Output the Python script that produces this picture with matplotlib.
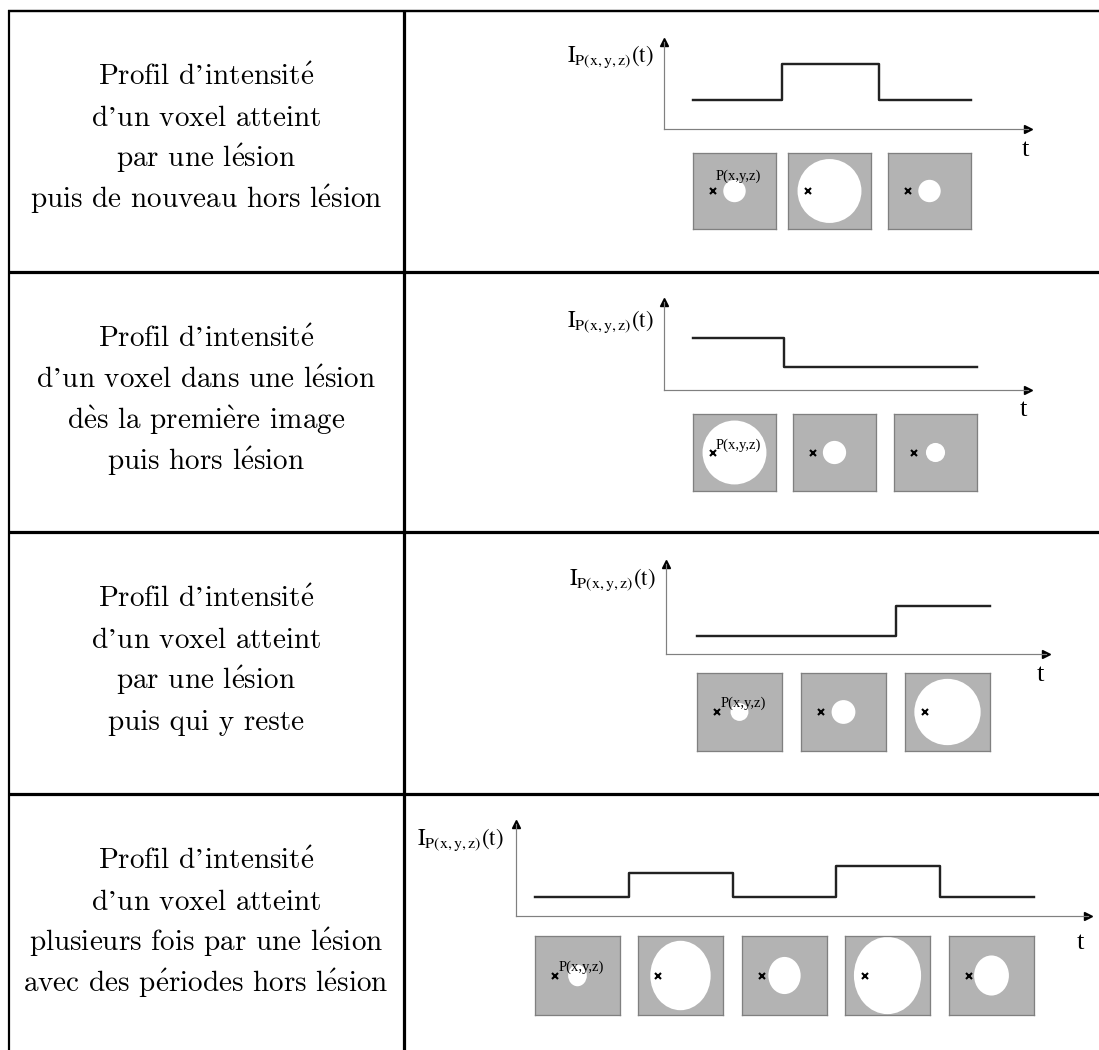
import matplotlib
matplotlib.use("Agg")
import matplotlib.pyplot as plt
from matplotlib.patches import Ellipse

plt.rcParams["mathtext.fontset"] = "stix"

W, H, DPI = 1099, 1050, 100
PX = 72.0 / DPI  # points per pixel

# ---------------- data ----------------
descriptions = [
    ["Profil d’intensité", "d’un voxel atteint", "par une lésion", "puis de nouveau hors lésion"],
    ["Profil d’intensité", "d’un voxel dans une lésion", "dès la première image", "puis hors lésion"],
    ["Profil d’intensité", "d’un voxel atteint", "par une lésion", "puis qui y reste"],
    ["Profil d’intensité", "d’un voxel atteint", "plusieurs fois par une lésion", "avec des périodes hors lésion"],
]
# intensity level in each frame (fraction of the axis height)
intensity_row1 = [0.33, 0.75, 0.33]
intensity_row2 = [0.59, 0.26, 0.26]
intensity_row3 = [0.20, 0.20, 0.53]
intensity_row4 = [0.21, 0.47, 0.21, 0.54, 0.21]
# lesion radius in each frame (fraction of the frame half-width)
lesion_row1 = [0.27, 0.77, 0.27]
lesion_row2 = [0.77, 0.28, 0.23]
lesion_row3 = [0.21, 0.28, 0.78]
lesion_row4 = [0.22, 0.71, 0.38, 0.79, 0.41]
axis_label = r"$\mathrm{I}_{\mathrm{P(x,y,z)}}\mathrm{(t)}$"
point_label = "P(x,y,z)"
time_label = "t"

intensities = [intensity_row1, intensity_row2, intensity_row3, intensity_row4]
lesions = [lesion_row1, lesion_row2, lesion_row3, lesion_row4]


def cm_text(s):
    # cmr10 lacks accented letters and the curly apostrophe: draw them
    # through Computer Modern mathtext (accents) / its STIX fallback (’)
    return (s.replace("é", r"$\mathrm{\acute{e}}$")
             .replace("è", r"$\mathrm{\grave{e}}$")
             .replace("’", r"$\mathrm{’}$"))


# ---------------- layout (pixels) ----------------
layout = [
    dict(ox=664, oy=129, ytip=42, xtip=1028, lab=(610, 57), t=(1025, 150),
         lefts=[693, 788, 888], fw=83, ftop=153, fbot=229, oval=1.0, pdy=0.36),
    dict(ox=664, oy=390, ytip=302, xtip=1028, lab=(610, 322), t=(1023, 410),
         lefts=[693, 793, 894], fw=83, ftop=414, fbot=491, oval=1.0, pdy=0.18),
    dict(ox=666, oy=654, ytip=564, xtip=1046, lab=(612, 580), t=(1040, 675),
         lefts=[697, 801, 905], fw=85, ftop=673, fbot=751, oval=1.0, pdy=0.2),
    dict(ox=516, oy=916, ytip=824, xtip=1088, lab=(460, 840), t=(1080, 943),
         lefts=[535, 638, 742, 845, 949], fw=85, ftop=936, fbot=1015, oval=1.15, pdy=0.2),
]
row_tops = [10, 272, 532, 794]
row_h = 262

fig = plt.figure(figsize=(W / DPI, H / DPI), dpi=DPI)

# canvas in pixel coordinates for table and text
cv = fig.add_axes([0, 0, 1, 1])
cv.set_xlim(0, W)
cv.set_ylim(H, 0)
cv.axis("off")
cv.patch.set_alpha(0)

# table rules
cv.plot([8, W], [10.5, 10.5], color="black", lw=2.4 * PX, solid_capstyle="butt")
for y in row_tops[1:]:
    cv.plot([8, W], [y, y], color="black", lw=3.2 * PX, solid_capstyle="butt")
cv.plot([9, 9], [10, H], color="black", lw=2.2 * PX, solid_capstyle="butt")
cv.plot([403.5, 403.5], [10, H], color="black", lw=3.2 * PX, solid_capstyle="butt")

# description text
for r, lines in enumerate(descriptions):
    yc = row_tops[r] + row_h / 2
    for i, line in enumerate(lines):
        yb = yc + 5.5 + (i - 1.5) * 40.8
        cv.text(206, yb, cm_text(line), ha="center", va="baseline", fontsize=21,
                family="cmr10", math_fontfamily="cm")

# diagrams
for r, L in enumerate(layout):
    lev = intensities[r]
    les = lesions[r]
    n = len(lev)
    fw = L["fw"]
    fh = L["fbot"] - L["ftop"]
    rights = [l + fw for l in L["lefts"]]
    # step plot axes
    ax = fig.add_axes([L["ox"] / W, 1 - L["oy"] / H,
                       (L["xtip"] - L["ox"]) / W, (L["oy"] - L["ytip"]) / H])
    ax.patch.set_alpha(0)
    ax.set_xlim(L["ox"], L["xtip"])
    ax.set_ylim(0, 1)
    for s in ["top", "right"]:
        ax.spines[s].set_visible(False)
    for s in ["left", "bottom"]:
        ax.spines[s].set_color("#808080")
        ax.spines[s].set_linewidth(1.2 * PX)
    ax.set_xticks([])
    ax.set_yticks([])
    edges = [L["lefts"][0]]
    for k in range(n - 1):
        edges.append((rights[k] + L["lefts"][k + 1]) / 2)
    edges.append(rights[-1])
    ax.plot(edges, list(lev) + [lev[-1]], drawstyle="steps-post",
            color="#222222", lw=2.4 * PX, clip_on=False)
    ax.plot(1, 0, ">", color="black", ms=6, transform=ax.transAxes, clip_on=False)
    ax.plot(0, 1, "^", color="black", ms=6, transform=ax.transAxes, clip_on=False)

    cv.text(L["lab"][0], L["lab"][1], axis_label, ha="center", va="center", fontsize=16.5)
    cv.text(L["t"][0], L["t"][1], time_label, ha="center", va="center", fontsize=19,
            family="Liberation Serif")

    # image frames
    for k in range(n):
        fa = fig.add_axes([L["lefts"][k] / W, 1 - L["fbot"] / H, fw / W, fh / H])
        hh = fh / fw
        fa.set_xlim(-1, 1)
        fa.set_ylim(-hh, hh)
        fa.set_facecolor("#b3b3b3")
        for s in fa.spines.values():
            s.set_color("#808080")
            s.set_linewidth(1.3 * PX)
        fa.set_xticks([])
        fa.set_yticks([])
        rr = les[k]
        fa.add_patch(Ellipse((0, 0), 2 * rr, 2 * rr * L["oval"], color="white", lw=0))
        fa.plot(-0.53, 0, "x", color="black", ms=4.5, mew=1.5)
        if k == 0:
            fa.text(-0.45, L["pdy"], point_label, ha="left", va="center",
                    fontsize=10.5, family="Liberation Serif", zorder=5)

fig.savefig("out.png", dpi=DPI)
